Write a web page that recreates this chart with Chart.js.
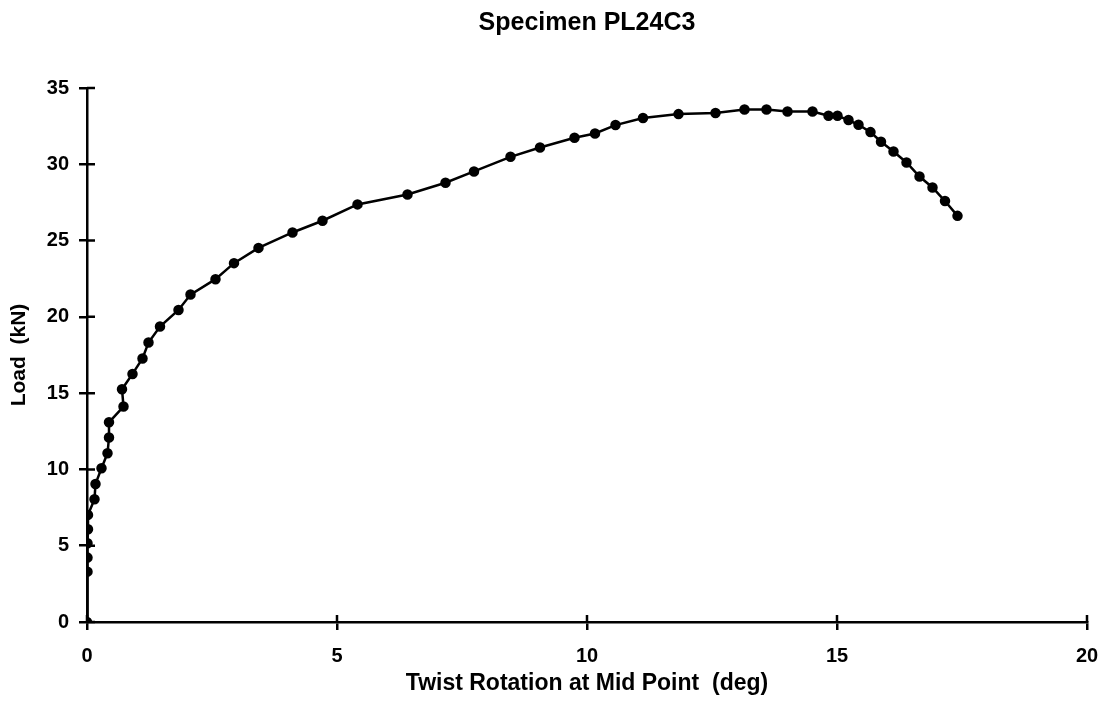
<!DOCTYPE html>
<html>
<head>
<meta charset="utf-8">
<script src="https://cdn.jsdelivr.net/npm/chart.js@4.4.0/dist/chart.umd.min.js"></script>
<style>
  body { margin: 0; background: #fff; }
  #wrap { width: 1104px; height: 713px; }
</style>
</head>
<body>
<div id="wrap"><canvas id="chart"></canvas></div>
<script>
// twist rotation at mid point (deg) and load (kN)
const twist = [0, 0.01, 0.01, 0.01, 0.02, 0.02, 0.15, 0.17, 0.29, 0.41, 0.44, 0.44, 0.73, 0.70,
    0.91, 1.11, 1.23, 1.46, 1.83, 2.07, 2.57, 2.94, 3.43, 4.11, 4.71, 5.41, 6.41, 7.17, 7.74,
    8.47, 9.06, 9.75, 10.16, 10.57, 11.12, 11.83, 12.57, 13.15, 13.59, 14.01, 14.51, 14.83,
    15.01, 15.23, 15.43, 15.67, 15.88, 16.13, 16.39, 16.65, 16.91, 17.16, 17.41];
const load = [0, 3.30, 4.22, 5.16, 6.08, 7.02, 8.05, 9.05, 10.08, 11.06, 12.09, 13.09, 14.12, 15.26,
    16.26, 17.27, 18.32, 19.37, 20.45, 21.46, 22.47, 23.52, 24.52, 25.53, 26.30, 27.37, 28.02, 28.79, 29.53,
    30.49, 31.10, 31.74, 32.02, 32.57, 33.03, 33.29, 33.36, 33.59, 33.59, 33.46, 33.46, 33.18,
    33.18, 32.90, 32.59, 32.11, 31.48, 30.84, 30.12, 29.20, 28.48, 27.59, 26.62];

const xTicks = [0, 5, 10, 15, 20];
const yTicks = [0, 5, 10, 15, 20, 25, 30, 35];

const points = twist.map((x, i) => ({ x: x, y: load[i] }));

const fontFam = '"Liberation Sans", Arial, sans-serif';

// ticks cross the axis line: draw the inner half
const innerTicks = {
    id: 'innerTicks',
    afterDraw(chart) {
        const ctx = chart.ctx;
        const xs = chart.scales.x, ys = chart.scales.y;
        ctx.save();
        ctx.strokeStyle = '#000';
        ctx.lineWidth = 2.5;
        ctx.beginPath();
        xTicks.forEach(v => {
            let px = xs.getPixelForValue(v);
            ctx.moveTo(px, ys.bottom);
            ctx.lineTo(px, ys.bottom - 7);
        });
        yTicks.forEach(v => {
            let py = ys.getPixelForValue(v);
            ctx.moveTo(xs.left, py);
            ctx.lineTo(xs.left + 8, py);
        });
        ctx.stroke();
        ctx.restore();
    }
};

new Chart(document.getElementById('chart'), {
    type: 'scatter',
    data: {
        datasets: [{
            data: points,
            showLine: true,
            borderColor: '#000',
            backgroundColor: '#000',
            borderWidth: 2.5,
            pointRadius: 4,
            pointHoverRadius: 4,
            tension: 0
        }]
    },
    options: {
        responsive: true,
        maintainAspectRatio: false,
        animation: false,
        layout: { padding: 0 },
        plugins: {
            legend: { display: false },
            tooltip: { enabled: false },
            title: {
                display: true,
                fullSize: false,
                text: 'Specimen PL24C3',
                color: '#000',
                font: { family: fontFam, size: 25, weight: 'bold' },
                padding: { top: 8, bottom: 50 }
            }
        },
        scales: {
            x: {
                type: 'linear',
                min: 0, max: 20,
                afterBuildTicks: s => { s.ticks = xTicks.map(v => ({ value: v })); },
                afterFit: s => { s.height = 91; s.paddingRight = 17; s.paddingLeft = 0; },
                border: { display: true, color: '#000', width: 2.5 },
                grid: { drawOnChartArea: false, drawTicks: true, tickLength: 8, color: '#000', lineWidth: 2.5 },
                ticks: { color: '#000', padding: 14, font: { family: fontFam, size: 20, weight: 'bold' } },
                title: {
                    display: true,
                    text: 'Twist Rotation at Mid Point  (deg)',
                    color: '#000',
                    font: { family: fontFam, size: 23, weight: 'bold' },
                    padding: { top: 0, bottom: 16 }
                }
            },
            y: {
                type: 'linear',
                min: 0, max: 35,
                afterBuildTicks: s => { s.ticks = yTicks.map(v => ({ value: v })); },
                afterFit: s => { s.width = 87; },
                border: { display: true, color: '#000', width: 2.5 },
                grid: { drawOnChartArea: false, drawTicks: true, tickLength: 8, color: '#000', lineWidth: 2.5 },
                ticks: { color: '#000', padding: 10, font: { family: fontFam, size: 20, weight: 'bold' } },
                title: {
                    display: true,
                    text: 'Load  (kN)',
                    color: '#000',
                    font: { family: fontFam, size: 21, weight: 'bold' },
                    padding: { top: 7, bottom: 0 }
                }
            }
        }
    },
    plugins: [innerTicks]
});
</script>
</body>
</html>
